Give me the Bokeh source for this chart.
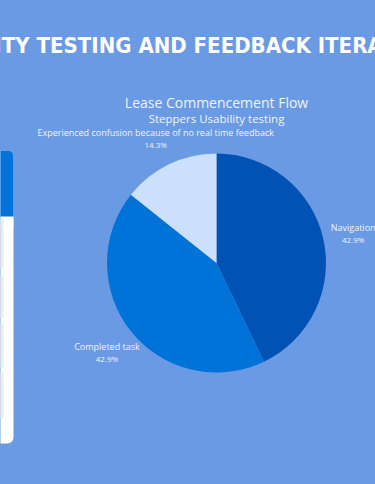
import numpy as np
from bokeh.plotting import figure
from bokeh.models import ColumnDataSource, Range1d, BoxAnnotation
from bokeh.core.properties import value
from bokeh.embed import file_html
from bokeh.resources import INLINE

# ---- data ----
categories = ["Navigation", "Completed task",
              "Experienced confusion because of no real time feedback"]
counts = [3, 3, 1]
slice_colors = ["#0053B5", "#0073D8", "#CCDFFD"]
chart_title = "Lease Commencement Flow"
chart_subtitle = "Steppers Usability testing"
banner_text = "USABILITY TESTING AND FEEDBACK ITERATION"

# ---- style / layout ----
BG = "#6A9AE3"
LABEL_COLOR = "#EEF3FC"
W, H = 375, 484
CX, CY, R = 216, 221.5, 109.5

p = figure(width=W, height=H, x_range=Range1d(0, W), y_range=Range1d(0, H),
           output_backend="svg", toolbar_location=None, min_border=0,
           x_axis_type=None, y_axis_type=None,
           background_fill_color=BG, border_fill_color=BG,
           outline_line_color=None)
p.grid.visible = False

# left side panel (partially visible)
p.add_layout(BoxAnnotation(left=-20, right=13, bottom=41, top=334, fill_color="white",
                           fill_alpha=1, line_color=None, border_radius=6))
p.add_layout(BoxAnnotation(left=-20, right=13, bottom=260, top=334, fill_color="#0074DB",
                           fill_alpha=1, line_color=None, border_radius=6))
p.add_layout(BoxAnnotation(left=-20, right=13, bottom=258, top=268, fill_color="white",
                           fill_alpha=1, line_color=None))
for b, t in [(216, 266), (167, 209), (117, 161), (67, 112)]:
    p.add_layout(BoxAnnotation(left=-20, right=3, bottom=b, top=t, fill_color="#EBEBEB",
                               fill_alpha=1, line_color=None))

# pie
vals = np.array(counts, dtype=float)
frac = vals / vals.sum()
cum_end = np.cumsum(frac)
cum_start = cum_end - frac
start = np.pi / 2 - 2 * np.pi * cum_start
end = np.pi / 2 - 2 * np.pi * cum_end
mid = (start + end) / 2
src = ColumnDataSource(dict(
    x=[CX] * len(vals), y=[CY] * len(vals), start=start, end=end,
    color=slice_colors, name=categories,
    pct=[f"{f*100:.1f}%" for f in frac],
    lx=CX + 1.28 * R * np.cos(mid), ly=CY + 1.28 * R * np.sin(mid),
))
p.wedge(x="x", y="y", radius=R, start_angle="start", end_angle="end",
        direction="clock", fill_color="color", line_color=None, source=src)

p.text(x="lx", y="ly", text="name", source=src, text_align="center",
       text_baseline="middle", y_offset=-4, text_color=LABEL_COLOR,
       text_font=value("Open Sans"), text_font_size="9px")
p.text(x="lx", y="ly", text="pct", source=src, text_align="center",
       text_baseline="middle", y_offset=8, text_color=LABEL_COLOR,
       text_font=value("Open Sans"), text_font_size="8px")

# titles
p.text(x=[CX], y=[382], text=[chart_title], text_align="center",
       text_baseline="middle", text_color=LABEL_COLOR,
       text_font=value("Open Sans"), text_font_size="14px")
p.text(x=[CX], y=[366.5], text=[chart_subtitle], text_align="center",
       text_baseline="middle", text_color=LABEL_COLOR,
       text_font=value("Open Sans"), text_font_size="11.5px")

# banner heading (cut off at both sides, as in the original slide)
p.text(x=[174], y=[439], text=[banner_text], text_align="center",
       text_baseline="alphabetic", text_color="white",
       text_font=value("'Liberation Sans Narrow', 'DejaVu Sans Condensed', sans-serif"),
       text_font_style="bold", text_font_size="22px")

html = file_html(p, INLINE, title="Usability testing")
html = html.replace("</head>", f"<style>html,body{{background-color:{BG};}}</style></head>", 1)
open("out.html", "w").write(html)
